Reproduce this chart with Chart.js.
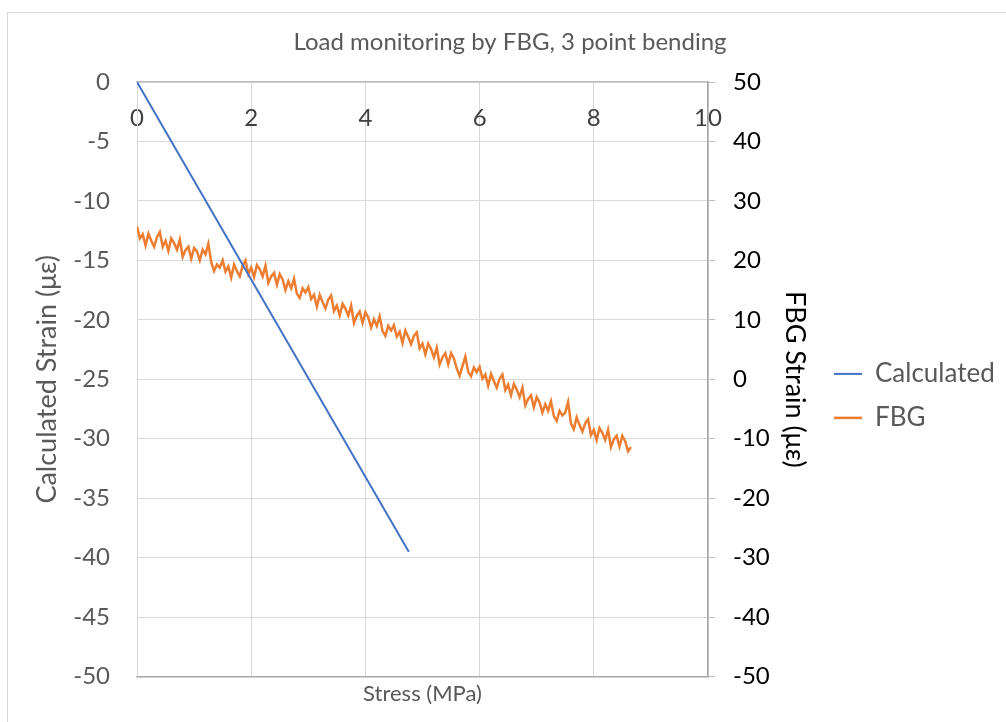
<!DOCTYPE html>
<html>
<head>
<meta charset="utf-8">
<script src="https://cdn.jsdelivr.net/npm/chart.js@4.4.1/dist/chart.umd.min.js"></script>
<style>
  html, body { margin: 0; padding: 0; background: #ffffff; overflow: hidden; }
  #wrap { position: relative; width: 1006px; height: 722px; }
  #frame { position: absolute; left: 7px; top: 12px; width: 1100px; height: 800px; border: 1px solid #d9d9d9; box-sizing: border-box; pointer-events: none; }
  canvas { position: absolute; left: 0; top: 0; }
</style>
</head>
<body>
<div id="wrap">
  <div id="frame"></div>
  <canvas id="c" width="1006" height="722"></canvas>
</div>
<script>
// ---- Data ----
const chartTitle = "Load monitoring by FBG, 3 point bending";
const xTicks = [0, 2, 4, 6, 8, 10];

// Calculated strain (left axis) vs stress
const calcStress = [0, 2, 4.76];
const calcStrain = [0, -16.6, -39.5];

// FBG strain (right axis) vs stress
const fbgStress = [0,0.05,0.1,0.15,0.2,0.25,0.3,0.35,0.4,0.45,0.5,0.55,0.6,0.65,0.7,0.75,0.8,0.85,0.9,0.95,
1,1.05,1.1,1.15,1.2,1.25,1.3,1.35,1.4,1.45,1.5,1.55,1.6,1.65,1.7,1.75,1.8,1.85,1.9,1.95,
2,2.05,2.1,2.15,2.2,2.25,2.3,2.35,2.4,2.45,2.5,2.55,2.6,2.65,2.7,2.75,2.8,2.85,2.9,2.95,
3,3.05,3.1,3.15,3.2,3.25,3.3,3.35,3.4,3.45,3.5,3.55,3.6,3.65,3.7,3.75,3.8,3.85,3.9,3.95,
4,4.05,4.1,4.15,4.2,4.25,4.3,4.35,4.4,4.45,4.5,4.55,4.6,4.65,4.7,4.75,4.8,4.85,4.9,4.95,
5,5.05,5.1,5.15,5.2,5.25,5.3,5.35,5.4,5.45,5.5,5.55,5.6,5.65,5.7,5.75,5.8,5.85,5.9,5.95,
6,6.05,6.1,6.15,6.2,6.25,6.3,6.35,6.4,6.45,6.5,6.55,6.6,6.65,6.7,6.75,6.8,6.85,6.9,6.95,
7,7.05,7.1,7.15,7.2,7.25,7.3,7.35,7.4,7.45,7.5,7.55,7.6,7.65,7.7,7.75,7.8,7.85,7.9,7.95,
8,8.05,8.1,8.15,8.2,8.25,8.3,8.35,8.4,8.45,8.5,8.55,8.6,8.65];
const fbgStrain = [25.7,23.7,24.4,22.5,24.5,23.3,22.3,23.9,24.8,22.3,
23.3,21.6,23.7,22.9,21.8,23.5,20.6,21.7,22.3,20.3,
22.1,21.5,20.0,21.8,21.0,22.8,19.7,18.2,19.3,18.8,
20.0,18.1,19.0,17.1,19.3,18.2,17.3,19.1,20.0,17.7,
18.8,17.2,19.2,18.5,17.3,19.1,16.2,17.3,17.9,15.9,
17.7,16.8,15.0,16.5,15.3,16.9,14.4,13.7,15.3,14.6,
15.5,13.5,14.2,12.2,14.2,13.0,11.9,13.4,14.1,11.5,
12.4,10.7,12.7,11.9,10.7,12.4,9.5,10.7,11.4,9.5,
11.3,10.4,8.7,10.1,9.0,10.6,8.1,7.3,9.0,8.2,
9.1,7.2,8.0,6.1,8.2,7.1,5.9,7.3,7.9,5.2,
6.0,4.2,6.0,5.1,3.7,5.3,2.5,3.7,4.4,2.5,
4.4,3.5,1.8,0.6,2.2,3.8,1.3,0.5,2.0,1.2,
2.1,0.1,0.8,-1.1,0.9,-0.3,-1.4,0.1,0.8,-1.8,
-0.9,-2.7,-0.8,-1.7,-3.0,-1.4,-4.4,-3.3,-2.7,-4.7,
-3.0,-3.9,-5.6,-4.2,-5.3,-3.7,-6.2,-7.0,-5.3,-6.1,
-5.6,-3.8,-7.4,-8.4,-6.4,-7.7,-8.8,-7.4,-6.7,-9.4,
-8.5,-10.2,-8.2,-9.0,-10.2,-8.5,-11.4,-10.1,-9.5,-11.3,
-9.5,-10.4,-12.1,-11.4];

// ---- Chart ----
const FONT = "Lato, 'Liberation Sans', sans-serif";
const toPts = (xs, ys) => xs.map((x, i) => ({ x: x, y: ys[i] }));

// keeps the legend column at a fixed width (as in the reference)
const legendWidthPlugin = {
  id: 'legendWidth',
  beforeLayout(chart) {
    const lg = chart.legend;
    if (lg && !lg._fixedWidth) {
      const orig = lg.fit.bind(lg);
      lg.fit = function () { orig(); this.width = 190; };
      lg._fixedWidth = true;
    }
  }
};

new Chart(document.getElementById('c'), {
  type: 'line',
  plugins: [legendWidthPlugin],
  data: {
    datasets: [
      {
        label: 'Calculated',
        data: toPts(calcStress, calcStrain),
        borderColor: '#4472C4',
        backgroundColor: '#4472C4',
        borderWidth: 2,
        pointRadius: 0,
        tension: 0,
        xAxisID: 'x',
        yAxisID: 'y'
      },
      {
        label: 'FBG',
        data: toPts(fbgStress, fbgStrain),
        borderColor: '#ED7D31',
        backgroundColor: '#ED7D31',
        borderWidth: 2.5,
        pointRadius: 0,
        tension: 0,
        xAxisID: 'x',
        yAxisID: 'y2'
      }
    ]
  },
  options: {
    responsive: false,
    animation: false,
    devicePixelRatio: 1,
    layout: { padding: { left: 14, right: 0, top: 0, bottom: 13 } },
    plugins: {
      title: {
        display: true,
        text: chartTitle,
        color: '#595959',
        font: { family: FONT, size: 24, weight: 'normal', lineHeight: 1.2 },
        padding: { top: 27.6, bottom: 25.6 }
      },
      legend: {
        display: true,
        position: 'right',
        title: { display: true, text: '', font: { family: FONT, size: 24, lineHeight: 1.2 }, padding: { top: 27, bottom: 27 } },
        labels: {
          color: '#595959',
          font: { family: FONT, size: 26 },
          usePointStyle: true,
          pointStyle: 'line',
          pointStyleWidth: 28,
          padding: 18
        }
      },
      tooltip: { enabled: false }
    },
    scales: {
      x: {
        type: 'linear',
        position: 'bottom',
        min: 0, max: 10,
        afterBuildTicks: (s) => { s.ticks = xTicks.map(v => ({ value: v })); },
        ticks: { display: false },
        grid: { color: '#d9d9d9', drawTicks: false },
        border: { color: '#a6a6a6', width: 1.5 },
        title: {
          display: true,
          text: 'Stress (MPa)',
          color: '#595959',
          font: { family: FONT, size: 22 },
          padding: { top: 4, bottom: 2 }
        }
      },
      xTop: {
        type: 'linear',
        position: { y: 0 },
        min: 0, max: 10,
        afterBuildTicks: (s) => { s.ticks = xTicks.map(v => ({ value: v })); },
        ticks: { color: '#404040', font: { family: FONT, size: 24 }, padding: 22 },
        grid: { drawOnChartArea: false, drawTicks: false },
        border: { color: '#bfbfbf', width: 1.5 }
      },
      y: {
        type: 'linear',
        position: 'left',
        min: -50, max: 0,
        afterFit: (s) => { s.width = 123; },
        ticks: { stepSize: 5, color: '#595959', font: { family: FONT, size: 24 }, padding: 27 },
        grid: { color: '#d9d9d9', drawTicks: false },
        border: { color: '#d9d9d9' },
        title: {
          display: true,
          text: 'Calculated Strain (με)',
          color: '#595959',
          font: { family: FONT, size: 27, lineHeight: 1.2 },
          padding: { top: 16.8, bottom: 0 }
        }
      },
      y2: {
        type: 'linear',
        position: 'right',
        min: -50, max: 50,
        afterFit: (s) => { s.width = 108; },
        ticks: { stepSize: 10, color: '#000000', font: { family: FONT, size: 24 }, padding: 18 },
        grid: { drawOnChartArea: false, tickLength: 7, color: '#bfbfbf' },
        border: { color: '#a6a6a6', width: 1.5 },
        title: {
          display: true,
          text: 'FBG Strain (με)',
          color: '#000000',
          font: { family: FONT, size: 27, lineHeight: 1.2 },
          padding: { top: 4.8, bottom: 0 }
        }
      }
    }
  }
});
</script>
</body>
</html>
